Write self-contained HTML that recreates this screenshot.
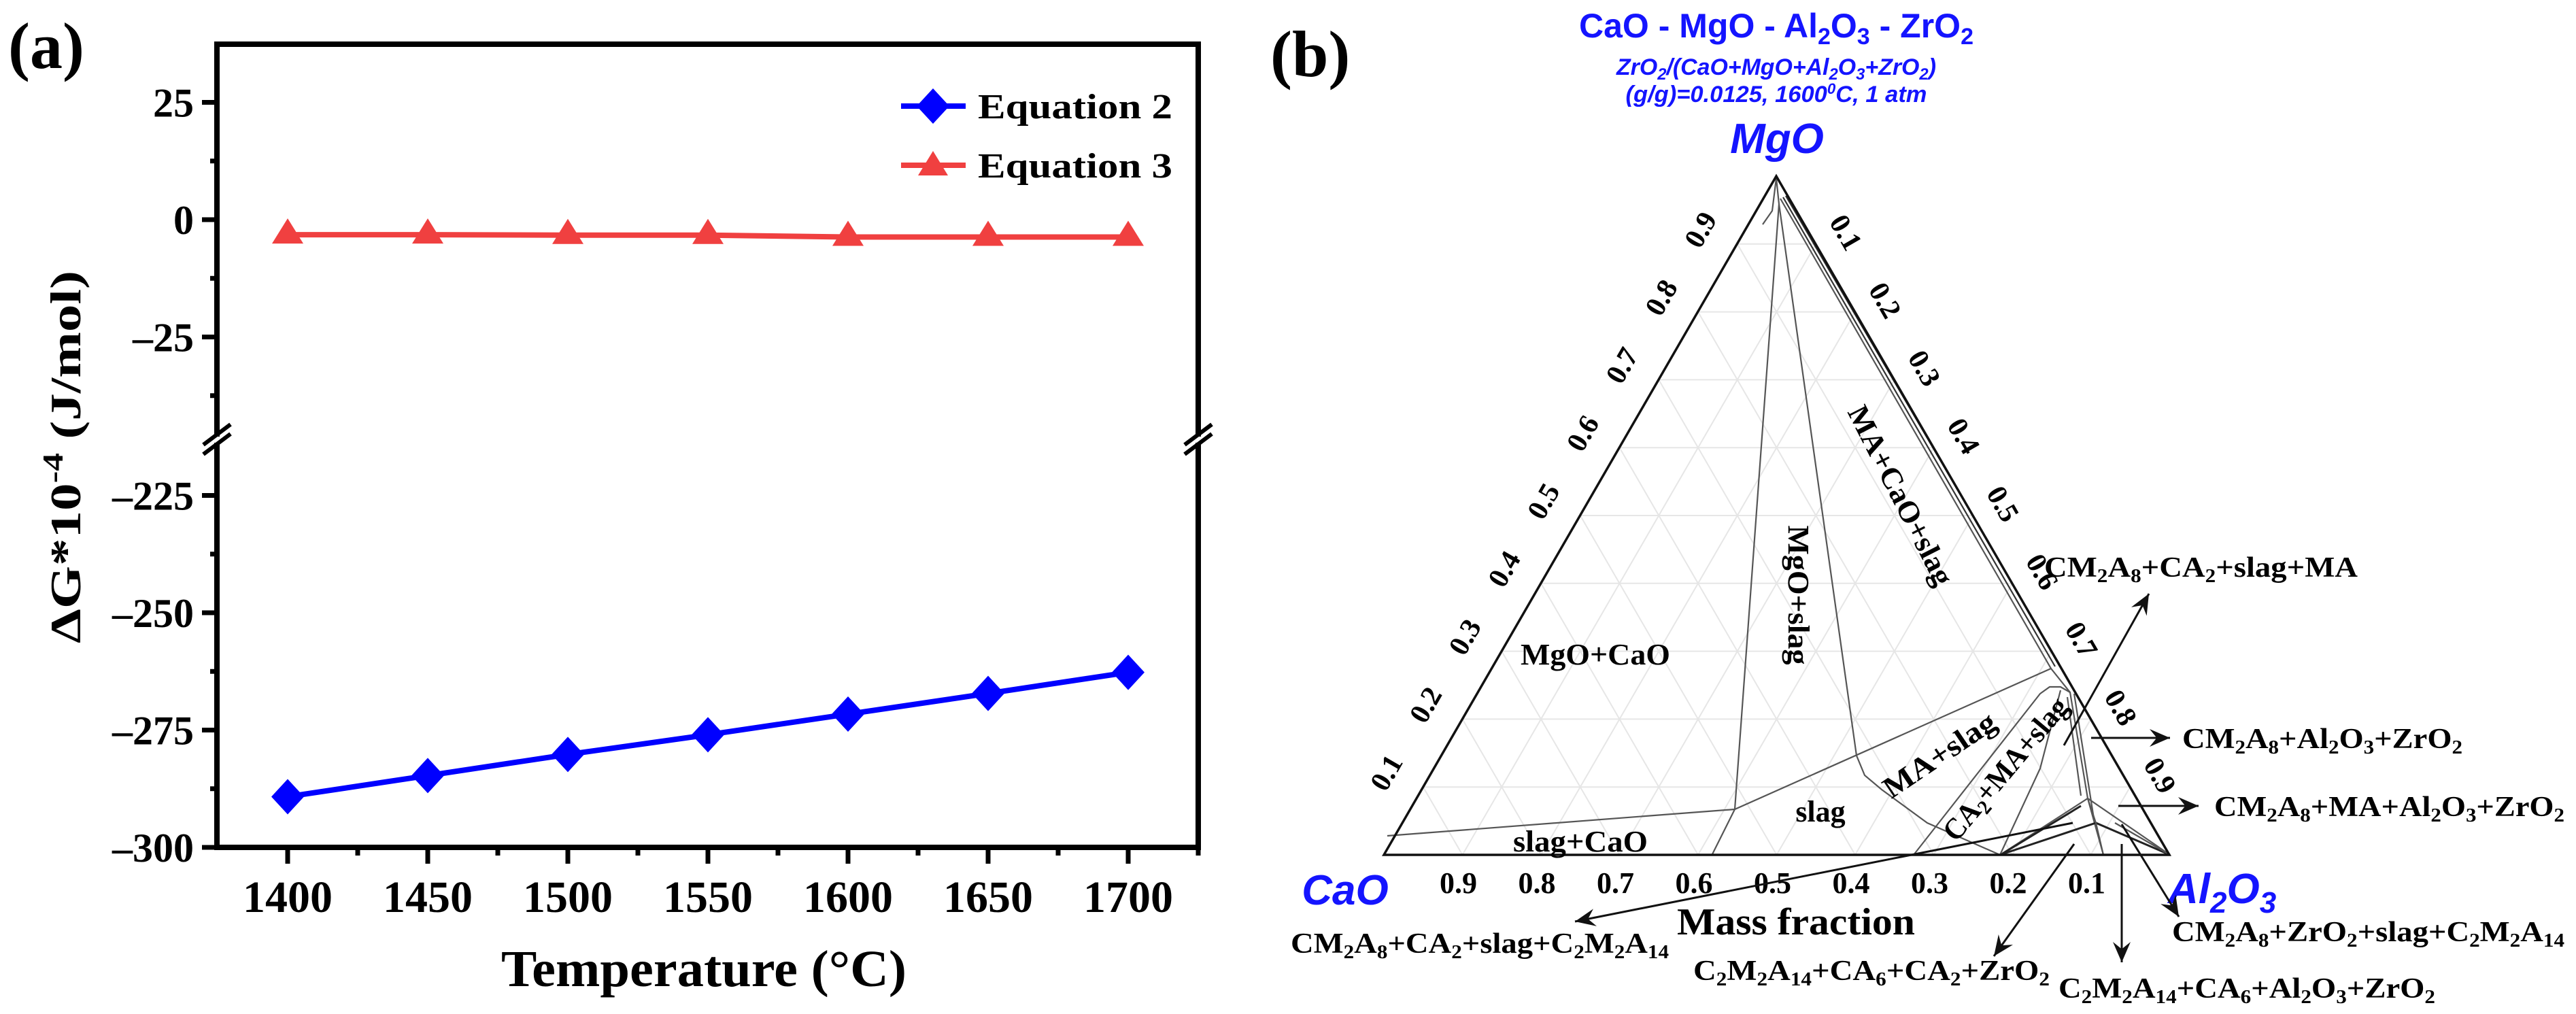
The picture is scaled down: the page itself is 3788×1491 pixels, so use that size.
<!DOCTYPE html>
<html><head><meta charset="utf-8"><style>
html,body{margin:0;padding:0;background:#fff;}
svg{display:block;}
.serif{font-family:"Liberation Serif","DejaVu Serif",serif;font-weight:bold;}
.sans{font-family:"Liberation Sans","DejaVu Sans",sans-serif;font-weight:bold;}
</style></head><body>
<svg id="fig" xmlns="http://www.w3.org/2000/svg" width="3788" height="1491" viewBox="0 0 3788 1491">
<rect width="3788" height="1491" fill="#fff"/>
<!-- Panel a -->
<g id="panelA">
  <text class="serif" x="12" y="100" font-size="96">(a)</text>
  <g id="axesA"></g>
  <g id="seriesA"></g>
  <text class="serif" transform="translate(118,672) rotate(-90)" text-anchor="middle" font-size="64" textLength="548" lengthAdjust="spacingAndGlyphs">ΔG*10<tspan dy="-26" font-size="42">-4</tspan><tspan dy="26"> (J/mol)</tspan></text>
  <text class="serif" x="1035" y="1450" text-anchor="middle" font-size="76" textLength="596" lengthAdjust="spacingAndGlyphs">Temperature (°C)</text>
  <g>
    <g>
      <line x1="1325" y1="156" x2="1420" y2="156" stroke="#0000ff" stroke-width="8"/>
      <polygon points="1372,130 1396,156 1372,182 1348,156" fill="#0000ff"/>
      <text class="serif" x="1438" y="174" font-size="52" textLength="286" lengthAdjust="spacingAndGlyphs">Equation 2</text>
    </g>
    <g>
      <line x1="1325" y1="243" x2="1420" y2="243" stroke="#f04040" stroke-width="8"/>
      <polygon points="1372,222 1394,258 1350,258" fill="#f04040"/>
      <text class="serif" x="1438" y="261" font-size="52" textLength="286" lengthAdjust="spacingAndGlyphs">Equation 3</text>
    </g>
  </g>
</g>
<!-- Panel b -->
<g id="panelB">
  <text class="serif" x="1868" y="112" font-size="96">(b)</text>
  <text class="sans" x="2612" y="55" text-anchor="middle" font-size="50" fill="#1414ff" textLength="580" lengthAdjust="spacingAndGlyphs">CaO - MgO - Al<tspan dy="10" font-size="34">2</tspan><tspan dy="-10">O</tspan><tspan dy="10" font-size="34">3</tspan><tspan dy="-10"> - ZrO</tspan><tspan dy="10" font-size="34">2</tspan></text>
  <text class="sans" x="2612" y="110" text-anchor="middle" font-size="34" font-style="italic" fill="#1414ff" textLength="470" lengthAdjust="spacingAndGlyphs">ZrO<tspan dy="7" font-size="24">2</tspan><tspan dy="-7">/(CaO+MgO+Al</tspan><tspan dy="7" font-size="24">2</tspan><tspan dy="-7">O</tspan><tspan dy="7" font-size="24">3</tspan><tspan dy="-7">+ZrO</tspan><tspan dy="7" font-size="24">2</tspan><tspan dy="-7">)</tspan></text>
  <text class="sans" x="2612" y="150" text-anchor="middle" font-size="34" font-style="italic" fill="#1414ff" textLength="443" lengthAdjust="spacingAndGlyphs">(g/g)=0.0125, 1600<tspan dy="-12" font-size="22">0</tspan><tspan dy="12">C, 1 atm</tspan></text>
  <text class="sans" x="2613" y="225" text-anchor="middle" font-size="62" font-style="italic" fill="#1414ff">MgO</text>
  <text class="sans" x="1978" y="1330" text-anchor="middle" font-size="62" font-style="italic" fill="#1414ff">CaO</text>
  <text class="sans" x="3188" y="1328" font-size="62" font-style="italic" fill="#1414ff">Al<tspan dy="14" font-size="44">2</tspan><tspan dy="-14">O</tspan><tspan dy="14" font-size="44">3</tspan></text>
  <g id="gridB"></g>
  <g id="phaseB" fill="none" stroke="#555" stroke-width="2.2">
    <polyline points="2612,262 2616,300 2551,1190 2518,1256"/>
    <polyline points="2612,262 2606,310 2592,330"/>
    <polyline points="2040,1229 2551,1190 3016,983"/>
    <polyline points="2616,300 2730,1111 2742,1140 2767,1161 2834,1210 2941,1257"/>
    <polyline points="2618,292 3016,983 3044,1018"/>
    <polyline points="2622,290 3022,980" stroke="#333"/>
    <polyline points="2626,288 3028,976" stroke="#333"/>
    <polyline points="2814,1257 3000,1020 3014,1010 3030,1010 3044,1018 3070,1174 3093,1257"/>
    <polyline points="2941,1257 3000,1130 3030,1015"/>
    <polyline points="3040,1025 3060,1170"/>
    <polyline points="3050,1020 3080,1210"/>
    <polyline points="2941,1257 3070,1174 3191,1257"/>
    <polyline points="2941,1257 3082,1210 3191,1257" stroke="#222" stroke-width="3"/>
    <polyline points="3070,1174 3082,1210 3093,1257"/>
    <polyline points="2945,1255 3060,1185" stroke="#222" stroke-width="3"/>
    <polyline points="3110,1210 3191,1257"/>
  </g>
  <polygon points="2612,259 2035,1257 3190,1257" fill="none" stroke="#111" stroke-width="3.5"/>
  <g id="ticksB"></g>
  <text class="serif" x="2641" y="1374" text-anchor="middle" font-size="56" textLength="350" lengthAdjust="spacingAndGlyphs">Mass fraction</text>
  <g class="serif" font-size="44">
    <text x="2236" y="977" textLength="220" lengthAdjust="spacingAndGlyphs">MgO+CaO</text>
    <text x="2225" y="1252" textLength="198" lengthAdjust="spacingAndGlyphs">slag+CaO</text>
    <text x="2677" y="1208" text-anchor="middle">slag</text>
    <text transform="translate(2630,875) rotate(90)" text-anchor="middle" textLength="205" lengthAdjust="spacingAndGlyphs">MgO+slag</text>
    <text transform="translate(2782,735) rotate(63)" text-anchor="middle" textLength="290" lengthAdjust="spacingAndGlyphs">MA+CaO+slag</text>
    <text transform="translate(2860,1122) rotate(-34)" text-anchor="middle" textLength="190" lengthAdjust="spacingAndGlyphs">MA+slag</text>
    <text transform="translate(2960,1140) rotate(-50)" text-anchor="middle" textLength="260" lengthAdjust="spacingAndGlyphs">CA<tspan dy="8" font-size="30">2</tspan><tspan dy="-8">+MA+slag</tspan></text>
  </g>
  <g stroke="#111" stroke-width="3" fill="none">
    <line x1="3035" y1="1096" x2="3160" y2="873"/>
    <line x1="3075" y1="1085" x2="3191" y2="1085"/>
    <line x1="3115" y1="1185" x2="3233" y2="1185"/>
    <line x1="3120" y1="1212" x2="3204" y2="1348"/>
    <line x1="3120" y1="1241" x2="3120" y2="1415"/>
    <line x1="3050" y1="1241" x2="2932" y2="1406"/>
    <line x1="3048" y1="1210" x2="2316" y2="1355"/>
  </g>
  <g id="heads" fill="#111"></g>
  <g class="serif" font-size="42">
    <text x="3006" y="848" textLength="461" lengthAdjust="spacingAndGlyphs">CM<tspan dy="8" font-size="28">2</tspan><tspan dy="-8">A</tspan><tspan dy="8" font-size="28">8</tspan><tspan dy="-8">+CA</tspan><tspan dy="8" font-size="28">2</tspan><tspan dy="-8">+slag+MA</tspan></text>
    <text x="3209" y="1100" textLength="412" lengthAdjust="spacingAndGlyphs">CM<tspan dy="8" font-size="28">2</tspan><tspan dy="-8">A</tspan><tspan dy="8" font-size="28">8</tspan><tspan dy="-8">+Al</tspan><tspan dy="8" font-size="28">2</tspan><tspan dy="-8">O</tspan><tspan dy="8" font-size="28">3</tspan><tspan dy="-8">+ZrO</tspan><tspan dy="8" font-size="28">2</tspan></text>
    <text x="3256" y="1200" textLength="515" lengthAdjust="spacingAndGlyphs">CM<tspan dy="8" font-size="28">2</tspan><tspan dy="-8">A</tspan><tspan dy="8" font-size="28">8</tspan><tspan dy="-8">+MA+Al</tspan><tspan dy="8" font-size="28">2</tspan><tspan dy="-8">O</tspan><tspan dy="8" font-size="28">3</tspan><tspan dy="-8">+ZrO</tspan><tspan dy="8" font-size="28">2</tspan></text>
    <text x="3194" y="1384" textLength="577" lengthAdjust="spacingAndGlyphs">CM<tspan dy="8" font-size="28">2</tspan><tspan dy="-8">A</tspan><tspan dy="8" font-size="28">8</tspan><tspan dy="-8">+ZrO</tspan><tspan dy="8" font-size="28">2</tspan><tspan dy="-8">+slag+C</tspan><tspan dy="8" font-size="28">2</tspan><tspan dy="-8">M</tspan><tspan dy="8" font-size="28">2</tspan><tspan dy="-8">A</tspan><tspan dy="8" font-size="28">14</tspan></text>
    <text x="3027" y="1467" textLength="554" lengthAdjust="spacingAndGlyphs">C<tspan dy="8" font-size="28">2</tspan><tspan dy="-8">M</tspan><tspan dy="8" font-size="28">2</tspan><tspan dy="-8">A</tspan><tspan dy="8" font-size="28">14</tspan><tspan dy="-8">+CA</tspan><tspan dy="8" font-size="28">6</tspan><tspan dy="-8">+Al</tspan><tspan dy="8" font-size="28">2</tspan><tspan dy="-8">O</tspan><tspan dy="8" font-size="28">3</tspan><tspan dy="-8">+ZrO</tspan><tspan dy="8" font-size="28">2</tspan></text>
    <text x="2490" y="1441" textLength="524" lengthAdjust="spacingAndGlyphs">C<tspan dy="8" font-size="28">2</tspan><tspan dy="-8">M</tspan><tspan dy="8" font-size="28">2</tspan><tspan dy="-8">A</tspan><tspan dy="8" font-size="28">14</tspan><tspan dy="-8">+CA</tspan><tspan dy="8" font-size="28">6</tspan><tspan dy="-8">+CA</tspan><tspan dy="8" font-size="28">2</tspan><tspan dy="-8">+ZrO</tspan><tspan dy="8" font-size="28">2</tspan></text>
    <text x="1898" y="1401" textLength="556" lengthAdjust="spacingAndGlyphs">CM<tspan dy="8" font-size="28">2</tspan><tspan dy="-8">A</tspan><tspan dy="8" font-size="28">8</tspan><tspan dy="-8">+CA</tspan><tspan dy="8" font-size="28">2</tspan><tspan dy="-8">+slag+C</tspan><tspan dy="8" font-size="28">2</tspan><tspan dy="-8">M</tspan><tspan dy="8" font-size="28">2</tspan><tspan dy="-8">A</tspan><tspan dy="8" font-size="28">14</tspan></text>
  </g>
</g>
<script>
// ---- Panel (a) data ----
const temps = [1400, 1450, 1500, 1550, 1600, 1650, 1700];
const eq2 = [-289.2, -284.7, -280.2, -276.0, -271.6, -267.2, -262.7];
const eq3 = [-3.2, -3.2, -3.3, -3.3, -3.7, -3.7, -3.7];
const xTickLabels = [1400, 1450, 1500, 1550, 1600, 1650, 1700];
const yTickUpper = [25, 0, -25];
const yTickLower = [-225, -250, -275, -300];
const ternaryTicks = [0.1, 0.2, 0.3, 0.4, 0.5, 0.6, 0.7, 0.8, 0.9];

const NS = 'http://www.w3.org/2000/svg';
function mk(tag, attrs, parent) {
  const e = document.createElementNS(NS, tag);
  for (const k in attrs) e.setAttribute(k, attrs[k]);
  parent.appendChild(e);
  return e;
}
// axis functions
const L = 319, R = 1762, T = 65, B = 1246;
function xA(t) { return 423 + (t - 1400) * 4.12; }
function yA(v) { return v > -100 ? 323 - v * 6.9 : 1246 - (v + 300) * 6.9; }

const ax = document.getElementById('axesA');
// box with break gap
const k = { stroke: '#000', 'stroke-width': 8, fill: 'none', 'stroke-linecap': 'square' };
let p;
p = mk('polyline', Object.assign({ points: `${L},638 ${L},${T} ${R},${T} ${R},638` }, k), ax);


p = mk('polyline', Object.assign({ points: `${L},655 ${L},${B} ${R},${B} ${R},655` }, k), ax);


// break marks
[L, R].forEach(function (bx) {
  [[-6], [8]].forEach(function (o) {
    const l = mk('line', { x1: bx - 20, y1: 660 + o[0], x2: bx + 20, y2: 630 + o[0], stroke: '#000', 'stroke-width': 6 }, ax);
    
    
  });
});
// y ticks
function yTick(v, major) {
  const y = yA(v);
  const l = mk('line', { x1: L - (major ? 22 : 10), y1: y, x2: L, y2: y, stroke: '#000', 'stroke-width': 7 }, ax);
  
  
  if (major) {
    const t = mk('text', { x: L - 34, y: y + 21, 'text-anchor': 'end', 'font-size': 60, class: 'serif' }, ax);
    t.textContent = v < 0 ? '\u2013' + Math.abs(v) : String(v);
    
    
  }
}
yTickUpper.forEach(v => yTick(v, true));
yTickLower.forEach(v => yTick(v, true));
[12.5, -12.5, -37.5, -237.5, -262.5, -287.5].forEach(v => yTick(v, false));
// x ticks
function xTick(t, major) {
  const x = xA(t);
  const l = mk('line', { x1: x, y1: B, x2: x, y2: B + (major ? 24 : 12), stroke: '#000', 'stroke-width': 7 }, ax);
  
  
  if (major) {
    const tx = mk('text', { x: x, y: B + 95, 'text-anchor': 'middle', 'font-size': 66, class: 'serif' }, ax);
    tx.textContent = String(t);
    
    
  }
}
xTickLabels.forEach(t => xTick(t, true));
for (let i = 0; i < xTickLabels.length - 1; i++) xTick((xTickLabels[i] + xTickLabels[i + 1]) / 2, false);
xTick(1725, false);

const sa = document.getElementById('seriesA');
// equation 3 (red)
const l3 = mk('polyline', { points: temps.map((t, i) => xA(t) + ',' + yA(eq3[i])).join(' '), fill: 'none', stroke: '#f04040', 'stroke-width': 8 }, sa);


temps.forEach(function (t, i) {
  const x = xA(t), y = yA(eq3[i]);
  const m = mk('polygon', { points: `${x},${y - 24} ${x + 23},${y + 13} ${x - 23},${y + 13}`, fill: '#f04040' }, sa);
  
  
});
// equation 2 (blue)
const l2 = mk('polyline', { points: temps.map((t, i) => xA(t) + ',' + yA(eq2[i])).join(' '), fill: 'none', stroke: '#0000ff', 'stroke-width': 8 }, sa);


temps.forEach(function (t, i) {
  const x = xA(t), y = yA(eq2[i]);
  const m = mk('polygon', { points: `${x},${y - 26} ${x + 24},${y} ${x},${y + 26} ${x - 24},${y}`, fill: '#0000ff' }, sa);
  
  
});

// ---- Panel (b) ternary ----
const X0 = 2035, W = 1155, Y0 = 1257, H = 998;
function P(a, m) { return [X0 + W * (a + m / 2), Y0 - H * m]; }
const g = document.getElementById('gridB');
ternaryTicks.forEach(function (f) {
  const segs = [[P(0, f), P(1 - f, f)], [P(f, 0), P(f, 1 - f)], [P(1 - f, 0), P(0, 1 - f)]];
  segs.forEach(function (s) {
    const l = mk('line', { x1: s[0][0], y1: s[0][1], x2: s[1][0], y2: s[1][1], stroke: '#e6e6e6', 'stroke-width': 2 }, g);
    
    
  });
});
const tk = document.getElementById('ticksB');
ternaryTicks.forEach(function (f) {
  // left edge: MgO
  let q = P(0, f);
  let t = mk('text', { class: 'serif', 'font-size': 42, 'text-anchor': 'middle', transform: `translate(${q[0] - 42},${q[1] - 14}) rotate(-60)` }, tk);
  t.textContent = String(f);
  
  
  // right edge: Al2O3
  q = P(f, 1 - f);
  t = mk('text', { class: 'serif', 'font-size': 42, 'text-anchor': 'middle', transform: `translate(${q[0] + 32},${q[1] - 10}) rotate(60)` }, tk);
  t.textContent = String(f);
  
  
  // bottom: CaO
  q = P(1 - f, 0);
  t = mk('text', { class: 'serif', 'font-size': 44, 'text-anchor': 'middle', x: q[0] - 6, y: 1313 }, tk);
  t.textContent = String(f);
  
  
});
// arrow heads
const hd = document.getElementById('heads');
[[3035,1096,3160,873],[3075,1085,3191,1085],[3115,1185,3233,1185],[3120,1212,3204,1348],[3120,1241,3120,1415],[3050,1241,2932,1406],[3048,1210,2316,1355]].forEach(function (a) {
  const ang = Math.atan2(a[3] - a[1], a[2] - a[0]);
  const x = a[2], y = a[3], len = 30, w = 13;
  const bx = x - len * Math.cos(ang), by = y - len * Math.sin(ang);
  const nx = -Math.sin(ang) * w, ny = Math.cos(ang) * w;
  const h = mk('polygon', { points: `${x},${y} ${bx + nx},${by + ny} ${bx + 0.35 * len * Math.cos(ang)},${by + 0.35 * len * Math.sin(ang)} ${bx - nx},${by - ny}` }, hd);
  
  
});
</script>
</svg>
</body></html>
